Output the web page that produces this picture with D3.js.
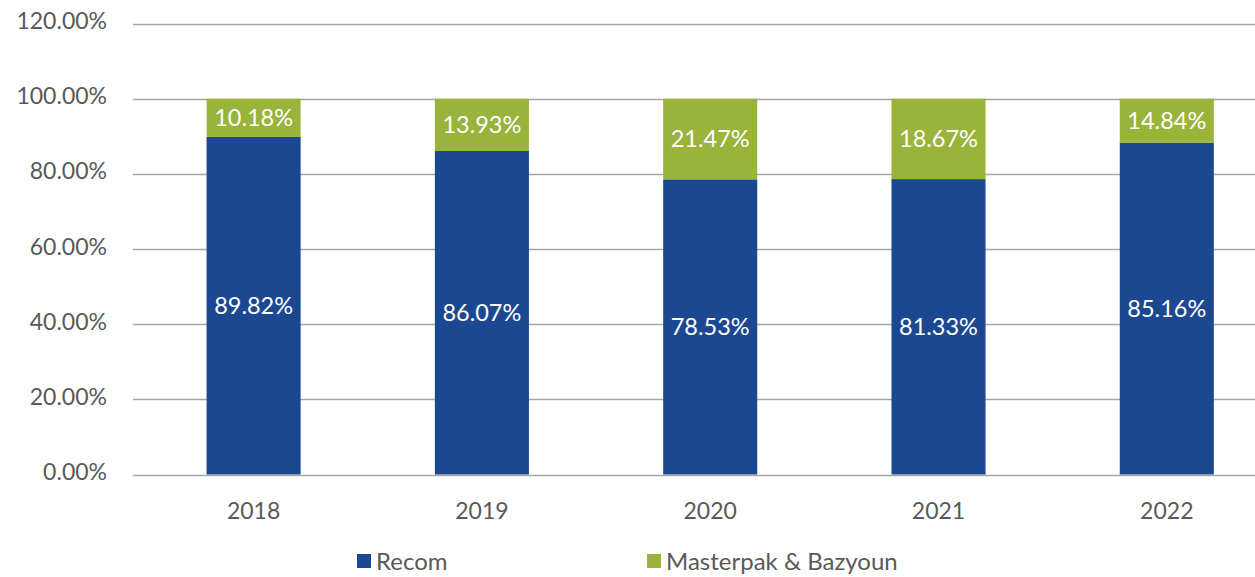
<!DOCTYPE html>
<html>
<head>
<meta charset="utf-8">
<script src="https://cdn.jsdelivr.net/npm/d3@7"></script>
<style>
  html, body { margin: 0; padding: 0; background: #fff; }
  svg { display: block; font-family: Lato, "Open Sans", sans-serif; }
</style>
</head>
<body>
<svg id="chart" width="1255" height="577"></svg>
<script>
const categories = ["2018", "2019", "2020", "2021", "2022"];
// bar heights as drawn in the picture
const recom = [89.82, 86.07, 78.53, 78.6, 88.3];
const masterpak = [10.18, 13.93, 21.47, 21.4, 11.7];
// value labels as printed in the picture
const recomLabels = ["89.82%", "86.07%", "78.53%", "81.33%", "85.16%"];
const masterpakLabels = ["10.18%", "13.93%", "21.47%", "18.67%", "14.84%"];
const seriesNames = ["Recom", "Masterpak & Bazyoun"];
const yTicks = [0, 20, 40, 60, 80, 100, 120];

const colors = { "Recom": "#1C4891", "Masterpak & Bazyoun": "#9AB33B" };
const labelTexts = { "Recom": recomLabels, "Masterpak & Bazyoun": masterpakLabels };

const svg = d3.select("#chart");
const W = 1255;

const y = d3.scaleLinear().domain([0, 120]).range([474.5, 23.5]);
const x = d3.scaleBand().domain(categories).range([139.45, 1280.95])
  .paddingInner(0.588).paddingOuter(0.294);

// gridlines
svg.append("g").selectAll("line").data(yTicks).join("line")
  .attr("x1", 133).attr("x2", W)
  .attr("y1", d => Math.round(y(d)) + 0.5).attr("y2", d => Math.round(y(d)) + 0.5)
  .attr("stroke", "#a6a6a6").attr("stroke-width", 1.3);

// y axis labels
const yAxis = d3.axisLeft(y).tickValues(yTicks).tickSize(0).tickPadding(0)
  .tickFormat(d => d.toFixed(2) + "%");
const gy = svg.append("g").attr("transform", "translate(107,0)").call(yAxis);
gy.select(".domain").remove();
gy.selectAll("text").attr("font-size", 23).attr("fill", "#595959")
  .attr("font-family", "Lato, sans-serif").attr("dy", "0.22em");

// x axis labels
const xAxis = d3.axisBottom(x).tickSize(0).tickPadding(0);
const gx = svg.append("g").attr("transform", "translate(0,518.5)").call(xAxis);
gx.select(".domain").remove();
gx.selectAll("text").attr("font-size", 23).attr("fill", "#595959")
  .attr("font-family", "Lato, sans-serif").attr("dy", 0);

const rows = categories.map((c, i) => ({ cat: c, idx: i, Recom: recom[i], "Masterpak & Bazyoun": masterpak[i] }));
const stack = d3.stack().keys(seriesNames)(rows);

const layers = svg.append("g").selectAll("g").data(stack).join("g")
  .attr("fill", d => colors[d.key]);
layers.selectAll("rect").data(d => d).join("rect")
  .attr("x", d => x(d.data.cat))
  .attr("width", x.bandwidth())
  .attr("y", d => y(d[1]))
  .attr("height", d => y(d[0]) - y(d[1]));

const labels = svg.append("g");
stack.forEach(layer => {
  labels.selectAll(null).data(layer).join("text")
    .attr("x", d => x(d.data.cat) + x.bandwidth() / 2)
    .attr("y", d => (y(d[0]) + y(d[1])) / 2)
    .attr("dy", "0.36em")
    .attr("text-anchor", "middle")
    .attr("font-size", 23.5)
    .attr("fill", "#ffffff")
    .text(d => labelTexts[layer.key][d.data.idx]);
});

// legend
const legendX = [357, 647];
const lg = svg.append("g");
seriesNames.forEach((name, i) => {
  lg.append("rect").attr("x", legendX[i]).attr("y", 554).attr("width", 14).attr("height", 14)
    .attr("fill", colors[name]);
  lg.append("text").attr("x", legendX[i] + 19).attr("y", 570)
    .attr("font-size", 24).attr("fill", "#595959").text(name);
});
</script>
</body>
</html>
